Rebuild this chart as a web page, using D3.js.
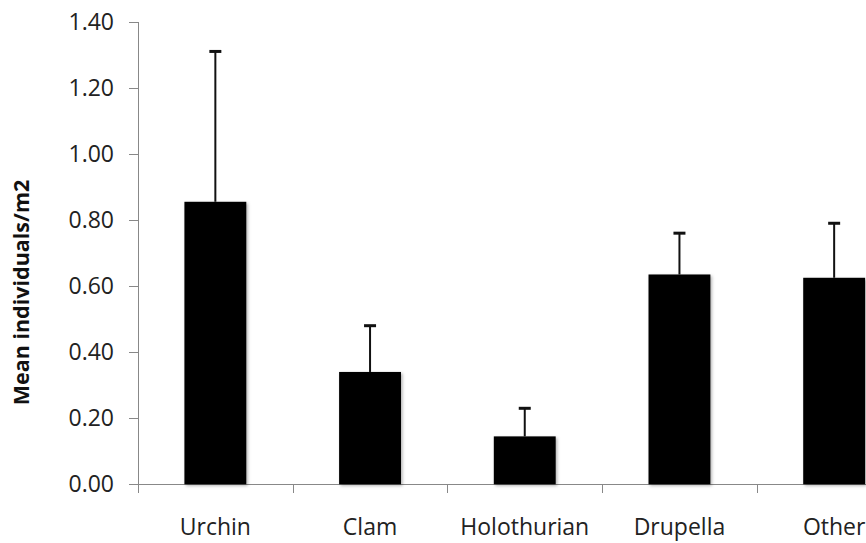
<!DOCTYPE html>
<html>
<head>
<meta charset="utf-8">
<script src="https://cdn.jsdelivr.net/npm/d3@7"></script>
<style>
  html, body { margin: 0; padding: 0; background: #fff; overflow: hidden; }
  svg { display: block; }
  .axis text { font-family: "Open Sans", sans-serif; font-size: 23px; fill: #222; }
  .axis path, .axis line { stroke: #888; stroke-width: 1; shape-rendering: crispEdges; }
</style>
</head>
<body>
<svg id="chart" width="866" height="543"></svg>
<script>
// Mean density of invertebrate groups, with standard error
const categories = ["Urchin", "Clam", "Holothurian", "Drupella", "Other"];
const means = [0.855, 0.34, 0.145, 0.635, 0.625];
const errors = [0.455, 0.14, 0.085, 0.125, 0.165];
const yTicks = [0, 0.2, 0.4, 0.6, 0.8, 1.0, 1.2, 1.4];
const yTitle = "Mean individuals/m2";

const svg = d3.select("#chart");

const plotLeft = 138, plotRight = 911.5, plotTop = 21.7, plotBottom = 484.3;

const y = d3.scaleLinear().domain([0, 1.4]).range([plotBottom, plotTop]);
const x = d3.scaleBand().domain(categories).range([plotLeft, plotRight])
  .paddingInner(0.6).paddingOuter(0.3);
const edges = d3.scaleLinear().domain([0, categories.length]).range([plotLeft, plotRight]);

const defs = svg.append("defs");
const shadow = defs.append("filter").attr("id", "barShadow")
  .attr("x", "-20%").attr("y", "-20%").attr("width", "140%").attr("height", "140%");
shadow.append("feDropShadow").attr("dx", 1.5).attr("dy", 1.5)
  .attr("stdDeviation", 1.5).attr("flood-color", "#000").attr("flood-opacity", 0.3);

// x axis: boundary ticks between categories
svg.append("g").attr("class", "axis")
  .attr("transform", `translate(0,${plotBottom})`)
  .call(d3.axisBottom(edges).tickValues(d3.range(categories.length + 1))
    .tickSize(9).tickSizeOuter(0).tickFormat(""));

// category labels
svg.append("g").attr("class", "axis")
  .attr("transform", `translate(0,${plotBottom})`)
  .call(d3.axisBottom(x).tickSize(0).tickPadding(34))
  .call(g => g.select(".domain").remove());

// y axis
svg.append("g").attr("class", "axis")
  .attr("transform", `translate(${plotLeft},0)`)
  .call(d3.axisLeft(y).tickValues(yTicks).tickFormat(d3.format(".2f"))
    .tickSize(9).tickSizeOuter(0).tickPadding(15));

// error bars (upper only)
const err = svg.append("g").selectAll("g").data(categories).join("g");
err.append("line")
  .attr("x1", d => x(d) + x.bandwidth() / 2)
  .attr("x2", d => x(d) + x.bandwidth() / 2)
  .attr("y1", (d, i) => y(means[i]))
  .attr("y2", (d, i) => y(means[i] + errors[i]))
  .attr("stroke", "#111").attr("stroke-width", 2);
err.append("line")
  .attr("x1", d => x(d) + x.bandwidth() / 2 - 6)
  .attr("x2", d => x(d) + x.bandwidth() / 2 + 6)
  .attr("y1", (d, i) => y(means[i] + errors[i]))
  .attr("y2", (d, i) => y(means[i] + errors[i]))
  .attr("stroke", "#111").attr("stroke-width", 3);

// bars
svg.append("g").selectAll("rect").data(categories).join("rect")
  .attr("x", d => x(d))
  .attr("width", x.bandwidth())
  .attr("y", (d, i) => y(means[i]))
  .attr("height", (d, i) => y(0) - y(means[i]))
  .attr("fill", "#000")
  .attr("filter", "url(#barShadow)");

// y axis title
svg.append("text")
  .attr("transform", `translate(28.5,292.5) rotate(-90)`)
  .attr("text-anchor", "middle")
  .style("font-family", "'Open Sans', sans-serif")
  .style("font-weight", "bold")
  .style("font-size", "21.5px")
  .style("fill", "#111")
  .text(yTitle);
</script>
</body>
</html>
